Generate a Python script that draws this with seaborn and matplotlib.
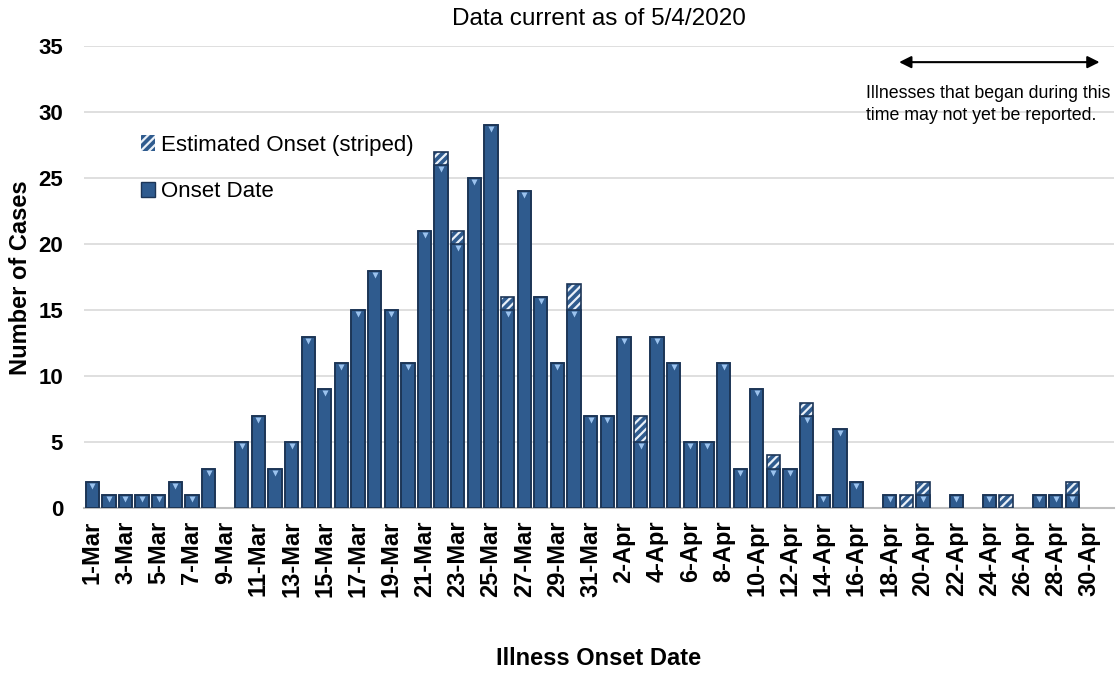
import numpy as np
import pandas as pd
import matplotlib
matplotlib.use("Agg")
import matplotlib.pyplot as plt
import seaborn as sns
from matplotlib.patches import Patch

# Daily case counts, 1-Mar .. 30-Apr 2020
MONTH_DAYS = [("Mar", 31), ("Apr", 30)]
DATES = [f"{d}-{m}" for m, n in MONTH_DAYS for d in range(1, n + 1)]

ONSET = [2, 1, 1, 1, 1, 2, 1, 3, 0, 5,
         7, 3, 5, 13, 9, 11, 15, 18, 15, 11,
         21, 26, 20, 25, 29, 15, 24, 16, 11, 15,
         7,
         7, 13, 5, 13, 11, 5, 5, 11, 3, 9,
         3, 3, 7, 1, 6, 2, 0, 1, 0, 1,
         0, 1, 0, 1, 0, 0, 1, 1, 1, 0]
ESTIMATED = [0, 0, 0, 0, 0, 0, 0, 0, 0, 0,
             0, 0, 0, 0, 0, 0, 0, 0, 0, 0,
             0, 1, 1, 0, 0, 1, 0, 0, 0, 2,
             0,
             0, 0, 2, 0, 0, 0, 0, 0, 0, 0,
             1, 0, 1, 0, 0, 0, 0, 0, 1, 1,
             0, 0, 0, 0, 1, 0, 0, 0, 1, 0]

TITLE = "Data current as of 5/4/2020"
NOTE = "Illnesses that began during this\ntime may not yet be reported."

df = pd.DataFrame({"date": DATES, "onset": ONSET, "estimated": ESTIMATED})
df["total"] = df["onset"] + df["estimated"]

BAR = "#2f5b8e"
EDGE = "#1c3556"
MARK = "#9cc3ee"

sns.set_style("white")
plt.rcParams["font.family"] = ["Liberation Sans", "DejaVu Sans"]
plt.rcParams["hatch.linewidth"] = 1.6
for key in ["text.color", "axes.labelcolor", "xtick.labelcolor", "ytick.labelcolor"]:
    plt.rcParams[key] = "black"

fig = plt.figure(figsize=(11.18, 6.75), dpi=100)
ax = fig.add_axes([0.0751, 0.247, 0.9213, 0.6844])

# estimated portion: hatched full-height bars underneath
sns.barplot(data=df, x="date", y="total", order=DATES, color=BAR,
            edgecolor="#e9f0f8", hatch="////", linewidth=0, width=0.8,
            saturation=1, ax=ax, zorder=2)
# confirmed onset on top
sns.barplot(data=df, x="date", y="onset", order=DATES, color=BAR,
            edgecolor=EDGE, linewidth=1.2, width=0.8, saturation=1,
            ax=ax, zorder=3)
# outline around the whole stack
sns.barplot(data=df, x="date", y="total", order=DATES, fill=False,
            color=EDGE, linewidth=1.2, width=0.8, ax=ax, zorder=4)

# empty days should show nothing at all
for p in ax.patches:
    if p.get_height() == 0:
        p.set_visible(False)

# little highlight triangles at the top of each segment
xs = np.arange(len(DATES))
on = df["onset"].to_numpy()
m1 = on > 0
ax.plot(xs[m1], on[m1] - 0.3, ls="none", marker="v", ms=4.5,
        color=MARK, mec="none", zorder=5)

ax.set_xlim(-0.5, 61.5)
ax.set_ylim(0, 35)
ax.set_yticks(range(0, 36, 5))
ax.yaxis.grid(True, color="#d9d9d9", lw=1.2, zorder=0)
ax.set_axisbelow(True)
for s in ["left", "right", "top"]:
    ax.spines[s].set_visible(False)
ax.spines["bottom"].set_color("#bfbfbf")
ax.spines["bottom"].set_linewidth(1.5)

ax.set_xticks(xs[::2])
ax.set_xticklabels(DATES[::2], rotation=90, fontsize=17, fontweight="bold")
ax.set_xticks(np.arange(-0.5, 62, 2), minor=True)
ax.tick_params(axis="x", which="major", length=0, pad=9)
ax.tick_params(axis="x", which="minor", length=9, width=1.5, color="#bfbfbf")
ax.tick_params(axis="y", length=0, pad=15, labelsize=16)
for t in ax.get_yticklabels():
    t.set_fontweight("bold")

ax.set_xlabel("Illness Onset Date", fontsize=17, fontweight="bold", labelpad=36)
ax.set_ylabel("Number of Cases", fontsize=17, fontweight="bold")
ax.yaxis.set_label_coords(-0.05, 0.5)
ax.set_title(TITLE, fontsize=17.5, pad=15)

# legend
handles = [Patch(facecolor=BAR, edgecolor="#e9f0f8", hatch="////", lw=0),
           Patch(facecolor=BAR, edgecolor=EDGE, lw=1)]
ax.legend(handles, ["Estimated Onset (striped)", "Onset Date"],
          loc="upper left", bbox_to_anchor=(0.045, 0.833), frameon=False,
          fontsize=16, handlelength=0.6, handleheight=0.7, handletextpad=0.3,
          labelspacing=1.15, borderpad=0)

# reporting-lag note
ax.annotate("", xy=(48.4, 33.8), xytext=(60.8, 33.8),
            arrowprops=dict(arrowstyle="<|-|>", color="black", lw=1.5,
                            mutation_scale=18))
ax.text(53.9, 32.1, NOTE, ha="center", va="top", fontsize=12.8,
        linespacing=1.4, multialignment="left")

fig.savefig("out.png", dpi=100, facecolor="white")
